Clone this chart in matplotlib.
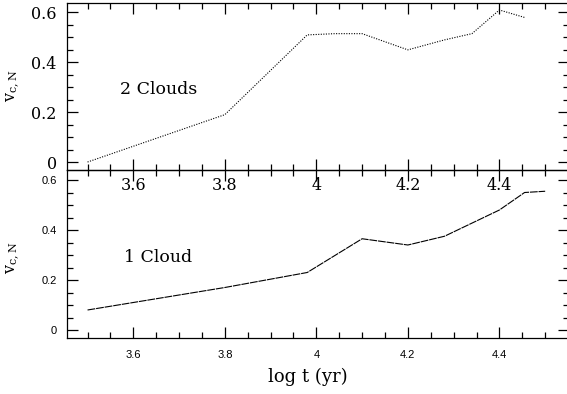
import matplotlib
matplotlib.use("Agg")
import matplotlib.pyplot as plt
from matplotlib.ticker import MultipleLocator, FuncFormatter

# Data
t2 = [3.50, 3.80, 3.98, 4.04, 4.10, 4.20, 4.28, 4.34, 4.40, 4.455]
v2 = [0.00, 0.19, 0.51, 0.515, 0.515, 0.45, 0.49, 0.515, 0.61, 0.58]
t1 = [3.50, 3.80, 3.98, 4.10, 4.20, 4.28, 4.40, 4.455, 4.50]
v1 = [0.08, 0.17, 0.23, 0.365, 0.34, 0.375, 0.48, 0.55, 0.555]
label2 = "2 Clouds"
label1 = "1 Cloud"
xlabel = "log t (yr)"
ylabel = r"v$_{\rm c,N}$"

plt.rcParams['mathtext.fontset'] = 'dejavuserif'

W, H = 567, 394
fig = plt.figure(figsize=(W / 100, H / 100), dpi=100)

left = 66.5 / W
width = 502 / W
ax_top = fig.add_axes([left, 1 - 170 / H, width, 167.5 / H])
ax_bot = fig.add_axes([left, 1 - 338 / H, width, 168 / H])

fmt = FuncFormatter(lambda v, p: "%g" % round(v, 3))

for ax in (ax_top, ax_bot):
    ax.set_xlim(3.454, 4.551)
    ax.set_ylim(-0.032, 0.64)
    ax.xaxis.set_major_locator(MultipleLocator(0.2))
    ax.xaxis.set_minor_locator(MultipleLocator(0.05))
    ax.yaxis.set_major_locator(MultipleLocator(0.2))
    ax.yaxis.set_minor_locator(MultipleLocator(0.05))
    ax.xaxis.set_major_formatter(fmt)
    ax.yaxis.set_major_formatter(fmt)
    ax.tick_params(which='both', direction='in', top=True, right=True,
                   width=0.9, color='black')
    ax.tick_params(which='major', length=8)
    ax.tick_params(which='minor', length=4.5)
    for s in ax.spines.values():
        s.set_linewidth(0.9)
    ax.set_facecolor('none')

# top panel
ax_top.plot(t2, v2, color='black', lw=0.8, linestyle=(0, (1, 1.3)))
ax_top.text(3.571, 0.289, label2, family='DejaVu Serif', fontsize=12.5,
            ha='left', va='center')
ax_top.tick_params(axis='both', which='major', labelsize=11.5, pad=5)
ax_top.tick_params(axis='y', which='major', pad=7)
for lab in ax_top.get_xticklabels() + ax_top.get_yticklabels():
    lab.set_family('DejaVu Serif')
ax_top.set_ylabel(ylabel, family='DejaVu Serif', fontsize=11.5, va='center')
ax_top.yaxis.set_label_coords(-0.1066, 0.5)

# bottom panel
ax_bot.plot(t1, v1, color='black', lw=0.8, linestyle=(0, (7, 0.8)))
ax_bot.text(3.58, 0.288, label1, family='DejaVu Serif', fontsize=12.5,
            ha='left', va='center')
ax_bot.tick_params(axis='both', which='major', labelsize=8)
ax_bot.tick_params(axis='x', which='major', pad=9)
ax_bot.tick_params(axis='y', which='major', pad=7)
for lab in ax_bot.get_xticklabels() + ax_bot.get_yticklabels():
    lab.set_family('Liberation Sans')
ax_bot.set_ylabel(ylabel, family='DejaVu Serif', fontsize=11.5, va='center')
ax_bot.yaxis.set_label_coords(-0.1066, 0.476)
ax_bot.set_xlabel(xlabel, family='DejaVu Serif', fontsize=13)
ax_bot.xaxis.set_label_coords(0.481, -0.232)
ax_bot.xaxis.label.set_va('center')

fig.savefig("out.png", dpi=100)
